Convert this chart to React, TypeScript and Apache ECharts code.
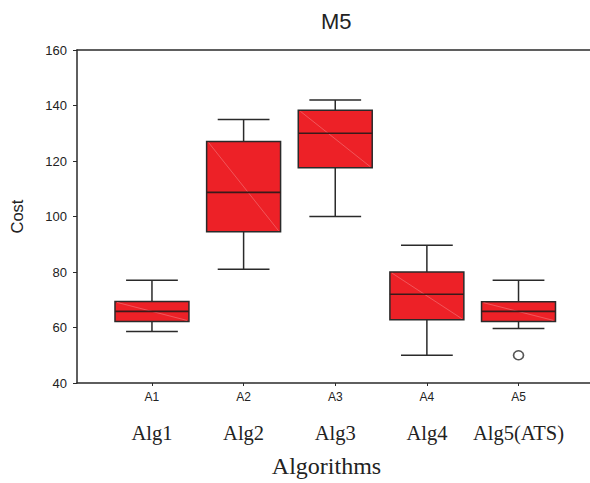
import React, { useEffect, useRef } from "react";
import * as echarts from "echarts";

const codes = ["A1", "A2", "A3", "A4", "A5"];
const algNames = ["Alg1", "Alg2", "Alg3", "Alg4", "Alg5(ATS)"];
const positions = [1, 2, 3, 4, 5];
// [low whisker, Q1, median, Q3, high whisker]
const lows = [58.6, 81, 100, 50, 59.6];
const q1s = [62.2, 94.5, 117.6, 62.8, 62.2];
const medians = [65.8, 108.7, 130, 72, 65.8];
const q3s = [69.4, 127, 138.3, 80, 69.3];
const highs = [77, 135, 142, 89.6, 77];
const outliers = [[5, 50]];
const yTicks = [40, 60, 80, 100, 120, 140, 160];

export default function App() {
  const ref = useRef<HTMLDivElement>(null);
  useEffect(() => {
    if (!ref.current) return;
    const chart = echarts.init(ref.current, null, { renderer: "svg" });
    const boxData = positions.map((p, i) => [p, lows[i], q1s[i], medians[i], q3s[i], highs[i]]);
    const lineColor = "#2a2a2a";
    const option: any = {
      animation: false,
      backgroundColor: "#ffffff",
      title: {
        text: "M5",
        left: 316,
        top: 5,
        textStyle: { fontFamily: "Liberation Sans, Arial", fontWeight: "normal", fontSize: 22, color: "#222" },
      },
      grid: { left: 77, right: 0, top: 50, bottom: 99, containLabel: false },
      xAxis: [
        {
          type: "value",
          min: 0.182,
          max: 5.78,
          position: "bottom",
          splitLine: { show: false },
          axisLine: { show: true, lineStyle: { color: lineColor, width: 1.5 } },
          axisTick: { show: true, customValues: positions, length: 3, lineStyle: { color: lineColor, width: 1 } },
          axisLabel: {
            show: true,
            customValues: positions,
            margin: 4,
            formatter: (v: number) => {
              const i = Math.round(v) - 1;
              return `{a|${codes[i]}}\n{b|${algNames[i]}}`;
            },
            rich: {
              a: { fontFamily: "Liberation Sans, Arial", fontSize: 12, color: "#222", lineHeight: 20 },
              b: { fontFamily: "Liberation Serif, Times New Roman", fontSize: 20.5, color: "#222", lineHeight: 52 },
            },
          },
          name: "Algorithms",
          nameLocation: "middle",
          nameGap: 71,
          nameTextStyle: { fontFamily: "Liberation Serif, Times New Roman", fontSize: 24, color: "#222", padding: [0, 14, 0, 0] },
        },
        {
          type: "value",
          min: 0.182,
          max: 5.78,
          position: "top",
          splitLine: { show: false },
          axisLine: { show: true, lineStyle: { color: lineColor, width: 1.5 } },
          axisTick: { show: false },
          axisLabel: { show: false },
        },
      ],
      yAxis: {
        type: "value",
        min: 40,
        max: 160,
        interval: 20,
        splitLine: { show: false },
        axisLine: { show: true, lineStyle: { color: lineColor, width: 1.5 } },
        axisTick: { show: true, length: 4, lineStyle: { color: lineColor, width: 1 } },
        axisLabel: {
          margin: 10,
          fontFamily: "Liberation Sans, Arial",
          fontSize: 13,
          color: "#222",
          customValues: yTicks,
        },
        name: "Cost",
        nameLocation: "middle",
        nameGap: 52,
        nameTextStyle: { fontFamily: "Liberation Sans, Arial", fontSize: 16.5, color: "#222" },
      },
      series: [
        {
          type: "custom",
          xAxisIndex: 0,
          data: boxData,
          renderItem: (params: any, api: any) => {
            const x = api.value(0);
            const lo = api.coord([x, api.value(1)]);
            const q1 = api.coord([x, api.value(2)]);
            const md = api.coord([x, api.value(3)]);
            const q3 = api.coord([x, api.value(4)]);
            const hi = api.coord([x, api.value(5)]);
            const bw = api.size([0.807, 0])[0];
            const cw = api.size([0.565, 0])[0];
            const cx = q1[0];
            const stroke = { stroke: lineColor, lineWidth: 1.5 };
            return {
              type: "group",
              children: [
                { type: "line", shape: { x1: cx, y1: hi[1], x2: cx, y2: q3[1] }, style: stroke },
                { type: "line", shape: { x1: cx, y1: q1[1], x2: cx, y2: lo[1] }, style: stroke },
                { type: "line", shape: { x1: cx - cw / 2, y1: hi[1], x2: cx + cw / 2, y2: hi[1] }, style: stroke },
                { type: "line", shape: { x1: cx - cw / 2, y1: lo[1], x2: cx + cw / 2, y2: lo[1] }, style: stroke },
                {
                  type: "rect",
                  shape: { x: cx - bw / 2, y: q3[1], width: bw, height: q1[1] - q3[1] },
                  style: { fill: "#ED2127", stroke: lineColor, lineWidth: 1.5 },
                },
                {
                  type: "line",
                  shape: { x1: cx - bw / 2 + 2, y1: q3[1] + 1, x2: cx + bw / 2 - 2, y2: q1[1] - 1 },
                  style: { stroke: "#F47A7E", lineWidth: 0.6 },
                },
                { type: "line", shape: { x1: cx - bw / 2, y1: md[1], x2: cx + bw / 2, y2: md[1] }, style: { stroke: "#3a1a1a", lineWidth: 1.6 } },
              ],
            };
          },
        },
        {
          type: "scatter",
          xAxisIndex: 0,
          data: outliers,
          symbol: "circle",
          symbolSize: [10, 9],
          itemStyle: { color: "#ffffff", borderColor: lineColor, borderWidth: 1.6 },
        },
      ],
    };
    chart.setOption(option);
    return () => chart.dispose();
  }, []);
  return <div ref={ref} style={{ position: "fixed", left: 0, top: 0, width: 590, height: 483 }} />;
}
